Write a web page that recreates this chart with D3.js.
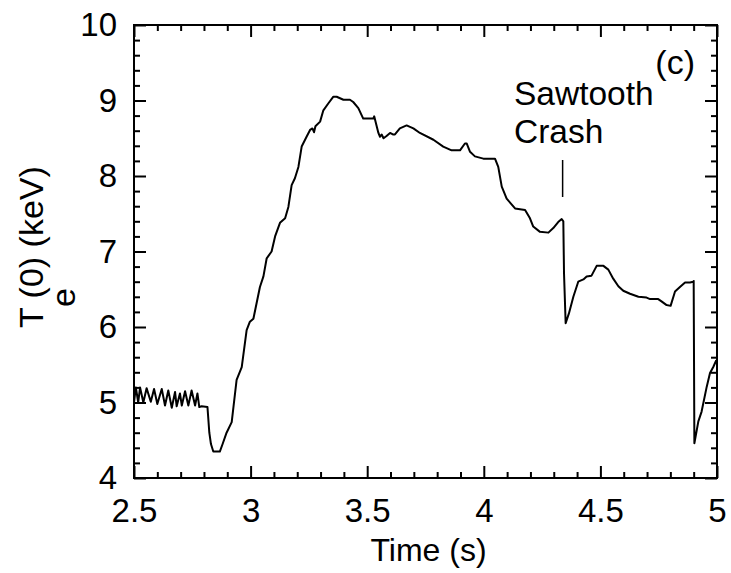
<!DOCTYPE html>
<html>
<head>
<meta charset="utf-8">
<script src="https://cdn.jsdelivr.net/npm/d3@7"></script>
<style>
  html, body { margin: 0; padding: 0; background: #fff; }
  svg { display: block; font-family: "Liberation Sans", Arial, Helvetica, sans-serif; }
</style>
</head>
<body>
<svg id="chart" width="731" height="573"></svg>
<script>
// ---- data ----
const time = [
  2.500, 2.508, 2.518, 2.526, 2.540, 2.554, 2.572, 2.586, 2.600, 2.619,
  2.633, 2.647, 2.662, 2.676, 2.683, 2.697, 2.705, 2.719, 2.733, 2.747,
  2.762, 2.772, 2.780, 2.790, 2.815, 2.823, 2.830, 2.840, 2.868, 2.880,
  2.897, 2.919, 2.940, 2.962, 2.983, 2.997, 3.012, 3.040, 3.055, 3.069,
  3.090, 3.105, 3.126, 3.148, 3.162, 3.176, 3.190, 3.205, 3.219, 3.240,
  3.255, 3.265, 3.272, 3.278, 3.298, 3.312, 3.333, 3.355, 3.369, 3.398,
  3.426, 3.440, 3.462, 3.483, 3.526, 3.530, 3.548, 3.555, 3.562, 3.570,
  3.583, 3.598, 3.610, 3.619, 3.640, 3.669, 3.698, 3.726, 3.784, 3.826,
  3.862, 3.898, 3.919, 3.927, 3.941, 3.962, 3.998, 4.048, 4.062, 4.077,
  4.098, 4.134, 4.177, 4.198, 4.212, 4.241, 4.277, 4.298, 4.319, 4.334,
  4.341, 4.344, 4.351, 4.365, 4.384, 4.405, 4.427, 4.441, 4.462, 4.484,
  4.513, 4.534, 4.555, 4.577, 4.598, 4.627, 4.663, 4.698, 4.713, 4.748,
  4.762, 4.784, 4.801, 4.820, 4.841, 4.863, 4.884, 4.898, 4.900, 4.903,
  4.920, 4.934, 4.956, 4.970, 4.984, 4.997
];
const te0 = [
  5.00, 5.20, 5.00, 5.20, 5.00, 5.19, 5.01, 5.18, 4.98, 5.18,
  4.96, 5.16, 4.93, 5.14, 4.95, 5.12, 4.96, 5.15, 4.96, 5.16,
  4.96, 5.12, 4.94, 4.95, 4.94, 4.60, 4.45, 4.35, 4.35, 4.45,
  4.60, 4.74, 5.30, 5.47, 5.96, 6.07, 6.11, 6.53, 6.67, 6.91,
  7.00, 7.20, 7.38, 7.44, 7.59, 7.88, 7.97, 8.12, 8.39, 8.52,
  8.61, 8.63, 8.58, 8.66, 8.72, 8.87, 8.96, 9.05, 9.05, 9.01,
  9.01, 8.98, 8.90, 8.76, 8.76, 8.79, 8.57, 8.52, 8.55, 8.50,
  8.53, 8.57, 8.55, 8.55, 8.63, 8.67, 8.63, 8.57, 8.48, 8.39,
  8.34, 8.34, 8.43, 8.43, 8.32, 8.26, 8.23, 8.23, 8.12, 7.86,
  7.70, 7.57, 7.55, 7.44, 7.33, 7.26, 7.25, 7.31, 7.39, 7.43,
  7.40, 6.71, 6.05, 6.18, 6.40, 6.60, 6.63, 6.67, 6.68, 6.81,
  6.81, 6.76, 6.64, 6.54, 6.48, 6.44, 6.40, 6.39, 6.37, 6.37,
  6.34, 6.29, 6.28, 6.47, 6.53, 6.59, 6.59, 6.60, 6.61, 4.46,
  4.75, 4.88, 5.21, 5.39, 5.47, 5.56
];
const xTicks = [2.5, 3, 3.5, 4, 4.5, 5];
const yTicks = [4, 5, 6, 7, 8, 9, 10];
const xLabel = "Time (s)";
const yLabelMain = "T (0) (keV)";
const yLabelSub = "e";
const panelLabel = "(c)";
const annotation = ["Sawtooth", "Crash"];
const crashTime = 4.338;

// ---- layout ----
const svg = d3.select("#chart");
const L = 134, R = 717, T = 25, B = 478;
const x = d3.scaleLinear().domain([2.5, 5]).range([L, R]);
const y = d3.scaleLinear().domain([4, 10]).range([B, T]);

const xMinor = d3.range(25, 51).map(d => d / 10).filter(d => !xTicks.some(t => Math.abs(t - d) < 1e-9));
const yMinor = d3.range(20, 51).map(d => d / 5).filter(d => !yTicks.some(t => Math.abs(t - d) < 1e-9));

function styleAxis(g) {
  g.select(".domain").remove();
  g.selectAll(".tick line").attr("stroke", "#000").attr("stroke-width", 2);
  g.selectAll(".tick text").attr("fill", "#000").attr("font-size", 33)
    .attr("font-family", '"Liberation Sans", Arial, Helvetica, sans-serif');
}

// bottom
svg.append("g").attr("transform", `translate(0,${B})`)
  .call(d3.axisBottom(x).tickValues(xTicks).tickSize(-12).tickPadding(21).tickFormat(d3.format("")))
  .call(styleAxis);
svg.append("g").attr("transform", `translate(0,${B})`)
  .call(d3.axisBottom(x).tickValues(xMinor).tickSize(-6).tickFormat(""))
  .call(styleAxis);
// top
svg.append("g").attr("transform", `translate(0,${T})`)
  .call(d3.axisTop(x).tickValues(xTicks).tickSize(-12).tickFormat(""))
  .call(styleAxis);
svg.append("g").attr("transform", `translate(0,${T})`)
  .call(d3.axisTop(x).tickValues(xMinor).tickSize(-6).tickFormat(""))
  .call(styleAxis);
// left
svg.append("g").attr("transform", `translate(${L},0)`)
  .call(d3.axisLeft(y).tickValues(yTicks).tickSize(-12).tickPadding(17).tickFormat(d3.format("d")))
  .call(styleAxis);
svg.append("g").attr("transform", `translate(${L},0)`)
  .call(d3.axisLeft(y).tickValues(yMinor).tickSize(-6).tickFormat(""))
  .call(styleAxis);
// right
svg.append("g").attr("transform", `translate(${R},0)`)
  .call(d3.axisRight(y).tickValues(yTicks).tickSize(-12).tickFormat(""))
  .call(styleAxis);
svg.append("g").attr("transform", `translate(${R},0)`)
  .call(d3.axisRight(y).tickValues(yMinor).tickSize(-6).tickFormat(""))
  .call(styleAxis);

// frame
svg.append("rect").attr("x", L).attr("y", T).attr("width", R - L).attr("height", B - T)
  .attr("fill", "none").attr("stroke", "#000").attr("stroke-width", 2);

// data line
const data = time.map((t, i) => [t, te0[i]]);
svg.append("path").datum(data)
  .attr("fill", "none").attr("stroke", "#000").attr("stroke-width", 2)
  .attr("stroke-linejoin", "round")
  .attr("d", d3.line().x(d => x(d[0])).y(d => y(d[1])));

// axis labels
svg.append("text").attr("x", (L + R) / 2 + 3).attr("y", 561)
  .attr("text-anchor", "middle").attr("font-size", 32).text(xLabel);

const yl = svg.append("g").attr("transform", "translate(43,0) rotate(-90)");
yl.append("text").attr("x", -328).attr("y", 0).attr("font-size", 34).text(yLabelMain);
yl.append("text").attr("x", -307).attr("y", 32).attr("font-size", 34).text(yLabelSub);

// panel label
svg.append("text").attr("x", 695).attr("y", 74).attr("text-anchor", "end")
  .attr("font-size", 34).text(panelLabel);

// annotation
svg.append("text").attr("x", 514).attr("y", 105).attr("font-size", 33.5).text(annotation[0]);
svg.append("text").attr("x", 514).attr("y", 143).attr("font-size", 33.5).text(annotation[1]);
svg.append("line").attr("x1", x(crashTime)).attr("x2", x(crashTime))
  .attr("y1", 160).attr("y2", 197).attr("stroke", "#000").attr("stroke-width", 1.5);
</script>
</body>
</html>
